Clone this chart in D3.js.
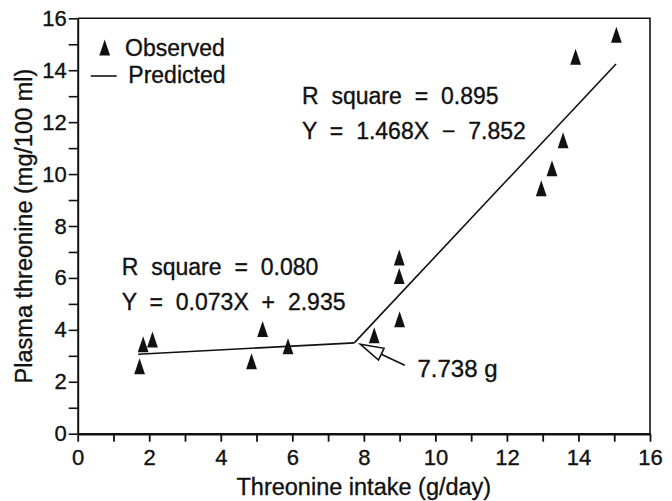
<!DOCTYPE html>
<html>
<head>
<meta charset="utf-8">
<script src="https://cdn.jsdelivr.net/npm/d3@7"></script>
<style>
  body { margin: 0; background: #fff; }
  svg text { font-family: "Liberation Sans", Arial, Helvetica, sans-serif; fill: #111; stroke: #111; stroke-width: 0.35px; }
  .axis path, .axis line { stroke: #111; }
</style>
</head>
<body>
<svg id="chart" width="672" height="501"></svg>
<script>
// observed points (g/day, mg/100 ml)
const intake = [1.73, 1.83, 2.09, 4.86, 5.17, 5.88, 8.29, 9.0, 8.99, 8.99, 12.96, 13.26, 13.57, 13.92, 15.06]
const plasma = [2.6, 3.45, 3.63, 2.79, 4.03, 3.37, 3.79, 4.41, 6.07, 6.79, 9.45, 10.22, 11.3, 14.52, 15.37]

// broken-line fit
const breakPoint = 7.738
const fitSlopes = [0.073, 1.468]
const fitIntercepts = [2.935, -7.852]
const fitStarts = [1.69, breakPoint]
const fitEnds = [breakPoint, 15.05]
const fitLabels = [['R square = 0.080', 'Y = 0.073X + 2.935'], ['R square = 0.895', 'Y = 1.468X − 7.852']]

const xTicks = d3.range(0, 17, 1)
const yTicks = d3.range(0, 17, 1)

const svg = d3.select('#chart')
const pLeft = 77.7, pRight = 650, pTop = 18.3, pBottom = 433.7

const x = d3.scaleLinear().domain([0, 16]).range([pLeft, pRight])
const y = d3.scaleLinear().domain([0, 16]).range([pBottom, pTop])

// frame (top + right)
svg.append('path')
  .attr('d', `M${pLeft},${pTop}H${pRight}V${pBottom}`)
  .attr('fill', 'none').attr('stroke', '#111').attr('stroke-width', 1.6)

// axes
const gx = svg.append('g').attr('class', 'axis')
  .attr('transform', `translate(0,${pBottom})`)
  .call(d3.axisBottom(x).tickValues(xTicks).tickFormat(d => d % 2 ? '' : d).tickSize(8).tickSizeOuter(0).tickPadding(8))
gx.select('.domain').attr('stroke-width', 2.4)
gx.selectAll('line').attr('stroke-width', 1.8)
gx.selectAll('text').attr('font-size', 22)

const gy = svg.append('g').attr('class', 'axis')
  .attr('transform', `translate(${pLeft},0)`)
  .call(d3.axisLeft(y).tickValues(yTicks).tickFormat(d => d % 2 ? '' : d).tickSize(9).tickSizeOuter(0).tickPadding(2))
gy.select('.domain').attr('stroke-width', 2)
gy.selectAll('line').attr('stroke-width', 1.6)
gy.selectAll('text').attr('font-size', 22)
svg.selectAll('.axis').attr('font-family', null).attr('font-size', null)

// axis titles
svg.append('text')
  .attr('x', (pLeft + pRight) / 2).attr('y', 495)
  .attr('text-anchor', 'middle').attr('font-size', 23.5)
  .text('Threonine intake (g/day)')
svg.append('text')
  .attr('transform', `translate(31.5,${(pTop + pBottom) / 2}) rotate(-90)`)
  .attr('text-anchor', 'middle').attr('font-size', 23.5)
  .text('Plasma threonine (mg/100 ml)')

// fitted lines
const fits = fitSlopes.map((s, i) => [fitStarts[i], fitEnds[i]].map(v => [v, s * v + fitIntercepts[i]]))
const line = d3.line().x(d => x(d[0])).y(d => y(d[1]))
svg.append('g').selectAll('path').data(fits).join('path')
  .attr('d', line).attr('fill', 'none').attr('stroke', '#111').attr('stroke-width', 1.6)

// observed triangles
const tri = 'M0,-8L5.4,8L-5.4,8Z'
svg.append('g').selectAll('path').data(intake).join('path')
  .attr('d', tri)
  .attr('transform', (d, i) => `translate(${x(d)},${y(plasma[i])})`)
  .attr('fill', '#111')

// fit annotations
const labelPos = [[121.7, 275], [302, 104]]
fitLabels.forEach((lines, i) => {
  const t = svg.append('text').attr('font-size', 23).attr('word-spacing', 6.5)
  lines.forEach((s, j) => {
    t.append('tspan').attr('x', labelPos[i][0]).attr('y', labelPos[i][1] + j * 35).text(s)
  })
})

// break point arrow
const bx = x(breakPoint) + 6, by = y(fitSlopes[0] * breakPoint + fitIntercepts[0]) + 1.5
const ang = Math.atan2(21, 44.3)
const ux = Math.cos(ang), uy = Math.sin(ang)
const headLen = 23, headW = 6.5, shaftLen = 49
const hx = bx + ux * headLen, hy = by + uy * headLen
svg.append('path')
  .attr('d', `M${bx},${by}L${hx - uy * headW},${hy + ux * headW}L${hx + uy * headW},${hy - ux * headW}Z`)
  .attr('fill', '#fff').attr('stroke', '#111').attr('stroke-width', 1.6).attr('stroke-linejoin', 'miter')
svg.append('line')
  .attr('x1', hx).attr('y1', hy).attr('x2', bx + ux * shaftLen).attr('y2', by + uy * shaftLen)
  .attr('stroke', '#111').attr('stroke-width', 1.6)
svg.append('text')
  .attr('x', 417.5).attr('y', 377).attr('font-size', 24)
  .text(breakPoint + ' g')

// legend
svg.append('path').attr('d', tri).attr('transform', 'translate(104.7,47.5)').attr('fill', '#111')
svg.append('text').attr('x', 125).attr('y', 55.5).attr('font-size', 23).text('Observed')
svg.append('line').attr('x1', 90.7).attr('x2', 116.7).attr('y1', 76).attr('y2', 76)
  .attr('stroke', '#111').attr('stroke-width', 1.6)
svg.append('text').attr('x', 128.3).attr('y', 83).attr('font-size', 23).text('Predicted')
</script>
</body>
</html>
